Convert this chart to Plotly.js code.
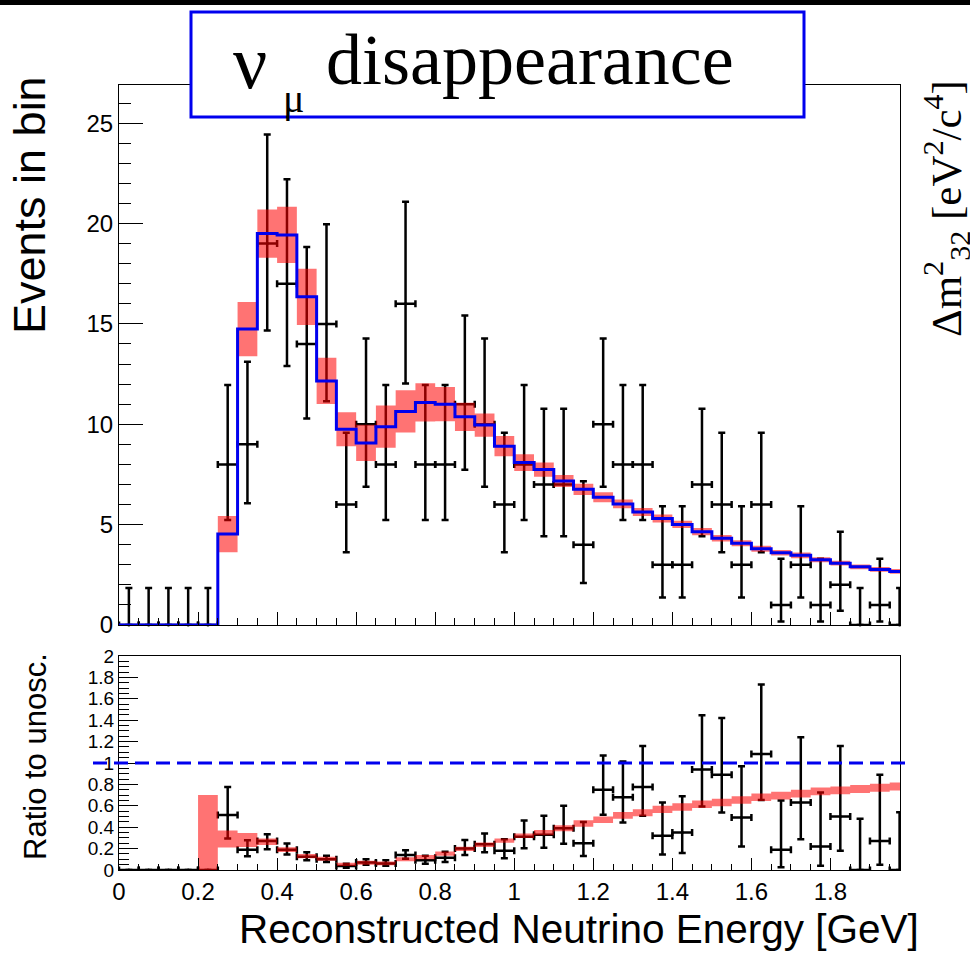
<!DOCTYPE html>
<html><head><meta charset="utf-8">
<script src="https://cdn.plot.ly/plotly-3.0.1.min.js"></script>
<style>html,body{margin:0;padding:0;background:#fff;} #plot{width:970px;height:954px;}</style>
</head><body><div id="plot"></div>
<script>
// Bin centres [GeV], 0.05 GeV bins
const energy = [0.025,0.075,0.125,0.175,0.225,0.275,0.325,0.375,0.425,0.475,
                0.525,0.575,0.625,0.675,0.725,0.775,0.825,0.875,0.925,0.975,
                1.025,1.075,1.125,1.175,1.225,1.275,1.325,1.375,1.425,1.475,
                1.525,1.575,1.625,1.675,1.725,1.775,1.825,1.875,1.925,1.975];
// Observed events
const events = [0,0,0,0,0,8,9,19,17,14,
                15,6,10,8,16,8,8,11,10,6,
                8,7,7,4,10,8,8,3,3,7,
                6,3,6,1,3,1,2,0,1,0];
const eventsErrUp = [1.84,1.84,1.84,1.84,1.84,3.95,4.11,5.43,5.20,4.83,
                     4.96,3.58,4.27,3.95,5.08,3.95,3.95,4.42,4.27,3.58,
                     3.95,3.77,3.77,3.16,4.27,3.95,3.95,2.92,2.92,3.77,
                     3.58,2.92,3.58,2.30,2.92,2.30,2.64,1.84,2.30,1.84];
const eventsErrLow = [0,0,0,0,0,2.77,2.94,4.33,4.10,3.71,
                      3.85,2.38,3.11,2.77,3.97,2.77,2.77,3.27,3.11,2.38,
                      2.77,2.58,2.58,1.91,3.11,2.77,2.77,1.63,1.63,2.58,
                      2.38,1.63,2.38,0.83,1.63,0.83,1.29,0,0.83,0];
// Best-fit oscillated prediction and its systematic half-width
const predicted = [0,0,0,0,0,4.53,14.74,19.5,19.43,16.35,
                   12.16,9.75,9.07,9.88,10.64,11.09,11.0,10.37,9.96,8.91,
                   8.09,7.74,7.17,6.76,6.36,6.03,5.63,5.31,5.01,4.65,
                   4.32,4.07,3.80,3.60,3.47,3.25,3.08,2.90,2.77,2.67];
const predictedErr = [0,0,0,0,0,0.9,1.35,1.2,1.4,1.4,
                      1.15,0.85,0.9,1.05,1.05,0.95,0.85,0.7,0.58,0.5,
                      0.42,0.36,0.3,0.28,0.25,0.22,0.2,0.2,0.18,0.18,
                      0.16,0.15,0.15,0.14,0.14,0.13,0.12,0.12,0.12,0.12];
// Ratio to unoscillated prediction
const ratio = [0,0,0,0,0,0.515,0.19,0.27,0.19,0.124,
               0.10,0.037,0.07,0.06,0.14,0.09,0.115,0.2,0.24,0.18,
               0.31,0.33,0.39,0.25,0.75,0.68,0.775,0.32,0.35,0.94,
               0.89,0.49,1.085,0.19,0.63,0.22,0.50,0,0.27,0];
const ratioErrUp = [0,0,0,0,0,0.26,0.087,0.065,0.058,0.042,
                    0.033,0.022,0.03,0.03,0.044,0.044,0.056,0.08,0.102,0.107,
                    0.153,0.178,0.21,0.198,0.32,0.335,0.383,0.31,0.34,0.506,
                    0.53,0.48,0.648,0.46,0.61,0.505,0.66,0.48,0.62,0.54];
const ratioErrLow = [0,0,0,0,0,0.22,0.062,0.075,0.046,0.033,
                     0.026,0.015,0.022,0.021,0.035,0.031,0.04,0.06,0.075,0.071,
                     0.107,0.122,0.144,0.12,0.234,0.235,0.269,0.174,0.19,0.346,
                     0.353,0.27,0.43,0.165,0.343,0.18,0.32,0,0.22,0];
const ratioBand = [0,0,0,0,0.35,0.29,0.28,0.264,0.19,0.13,
                   0.105,0.052,0.068,0.062,0.1,0.12,0.153,0.197,0.236,0.275,
                   0.32,0.35,0.39,0.435,0.47,0.51,0.535,0.567,0.589,0.614,
                   0.63,0.654,0.68,0.695,0.713,0.735,0.744,0.757,0.769,0.78];
const ratioBandErr = [0,0,0,0,0.35,0.08,0.065,0.03,0.022,0.02,
                      0.018,0.015,0.018,0.018,0.018,0.02,0.02,0.02,0.02,0.02,
                      0.022,0.025,0.028,0.03,0.03,0.032,0.033,0.034,0.035,0.035,
                      0.035,0.036,0.036,0.036,0.036,0.036,0.037,0.037,0.037,0.037];
const unoscRatio = 1;
const binHalfWidth = 0.025;
const xRange = [0, 1.976];

function stepX(c){ const xs = c.map(v => v - binHalfWidth); xs.push(c[c.length-1] + binHalfWidth); return xs; }
function stepY(v){ const ys = v.slice(); ys.push(v[v.length-1]); return ys; }

const SANS = 'Liberation Sans, Arial, sans-serif';
const SERIF = 'Liberation Serif, Times New Roman, serif';
const BAND = 'rgba(255,0,0,0.55)';
const BLUE = '#0000ee';

const xErrArr = energy.map(() => binHalfWidth);
const errStyle = {thickness: 2.5, width: 3.5, color: '#000'};

const traces = [
  {x: energy, y: events, type: 'scatter', mode: 'markers', xaxis: 'x', yaxis: 'y',
   marker: {size: 3, color: '#000'}, cliponaxis: false,
   error_y: Object.assign({type: 'data', symmetric: false, array: eventsErrUp, arrayminus: eventsErrLow}, errStyle),
   error_x: Object.assign({type: 'data', array: xErrArr}, errStyle)},
  {x: stepX(energy), y: stepY(predicted.map((v,i) => v - predictedErr[i])), type: 'scatter', mode: 'lines',
   line: {shape: 'hv', width: 0}, xaxis: 'x', yaxis: 'y', hoverinfo: 'skip'},
  {x: stepX(energy), y: stepY(predicted.map((v,i) => v + predictedErr[i])), type: 'scatter', mode: 'lines',
   line: {shape: 'hv', width: 0}, fill: 'tonexty', fillcolor: BAND, xaxis: 'x', yaxis: 'y', hoverinfo: 'skip'},
  {x: stepX(energy), y: stepY(predicted), type: 'scatter', mode: 'lines',
   line: {shape: 'hv', width: 3, color: BLUE}, xaxis: 'x', yaxis: 'y'},
  {x: energy, y: ratio, type: 'scatter', mode: 'markers', xaxis: 'x2', yaxis: 'y2',
   marker: {size: 3, color: '#000'},
   error_y: Object.assign({type: 'data', symmetric: false, array: ratioErrUp, arrayminus: ratioErrLow}, errStyle),
   error_x: Object.assign({type: 'data', array: xErrArr}, errStyle)},
  {x: stepX(energy), y: stepY(ratioBand.map((v,i) => v - ratioBandErr[i])), type: 'scatter', mode: 'lines',
   line: {shape: 'hv', width: 0}, xaxis: 'x2', yaxis: 'y2', hoverinfo: 'skip'},
  {x: stepX(energy), y: stepY(ratioBand.map((v,i) => v + ratioBandErr[i])), type: 'scatter', mode: 'lines',
   line: {shape: 'hv', width: 0}, fill: 'tonexty', fillcolor: BAND, xaxis: 'x2', yaxis: 'y2', hoverinfo: 'skip'}
];

const W = 970, H = 954;
const M = {l: 119, r: 70, t: 85, b: 84};
const PW = W - M.l - M.r, PH = H - M.t - M.b;
const topDomain = [(870 - 625) / PH, 1];
const botDomain = [0, (870 - 656) / PH];
const ratioRange = [0, 2.0];
const px = v => (v - M.l) / PW;
const py = v => (H - M.b - v) / PH;
const unityPaperY = botDomain[0] + (unoscRatio - ratioRange[0]) / (ratioRange[1] - ratioRange[0]) * (botDomain[1] - botDomain[0]);

const axisCommon = {showline: true, mirror: true, linecolor: '#000', linewidth: 1, showgrid: false, zeroline: false,
                    ticks: 'inside', tickcolor: '#000', tickwidth: 1, fixedrange: true};

const layout = {
  width: W, height: H, margin: M, paper_bgcolor: '#fff', plot_bgcolor: '#fff', showlegend: false,
  font: {family: SANS, color: '#000'},
  xaxis: Object.assign({}, axisCommon, {domain: [0,1], anchor: 'y', range: xRange, tick0: 0, dtick: 0.2, ticklen: 13,
          showticklabels: false, minor: {ticks: 'inside', ticklen: 7, dtick: 0.05, tickcolor: '#000', showgrid: false}}),
  yaxis: Object.assign({}, axisCommon, {domain: topDomain, anchor: 'x', range: [0, 26.9], tick0: 0, dtick: 5, ticklen: 24,
          tickfont: {family: SANS, size: 24, color: '#000'},
          minor: {ticks: 'inside', ticklen: 12, dtick: 1, tickcolor: '#000', showgrid: false}}),
  xaxis2: Object.assign({}, axisCommon, {domain: [0,1], anchor: 'y2', range: xRange, tick0: 0, dtick: 0.2, ticklen: 12,
          tickfont: {family: SANS, size: 24, color: '#000'},
          minor: {ticks: 'inside', ticklen: 6, dtick: 0.05, tickcolor: '#000', showgrid: false}}),
  yaxis2: Object.assign({}, axisCommon, {domain: botDomain, anchor: 'x2', range: ratioRange, tick0: 0, dtick: 0.2, ticklen: 19,
          tickfont: {family: SANS, size: 19, color: '#000'},
          minor: {ticks: 'inside', ticklen: 10, dtick: 0.05, tickcolor: '#000', showgrid: false}}),
  shapes: [
    {type: 'line', xref: 'paper', yref: 'paper', x0: px(93), x1: px(907), y0: unityPaperY, y1: unityPaperY,
     line: {color: BLUE, width: 3, dash: '14px,7px'}, layer: 'above'},
    {type: 'rect', xref: 'paper', yref: 'paper', x0: px(191), x1: px(804), y0: py(117), y1: py(12),
     fillcolor: '#fff', line: {color: BLUE, width: 3}, layer: 'above'},
    {type: 'rect', xref: 'paper', yref: 'paper', x0: px(0), x1: px(970), y0: py(5), y1: py(0),
     fillcolor: '#000', line: {width: 0}, layer: 'above'}
  ],
  annotations: [
    {text: 'ν', xref: 'paper', yref: 'paper', x: px(250), y: py(62), showarrow: false, xanchor: 'center', yanchor: 'middle',
     font: {family: SERIF, size: 76, color: '#000'}},
    {text: 'μ', xref: 'paper', yref: 'paper', x: px(293), y: py(98), showarrow: false, xanchor: 'center', yanchor: 'middle',
     font: {family: SERIF, size: 40, color: '#000'}},
    {text: 'disappearance', xref: 'paper', yref: 'paper', x: px(530), y: py(60), showarrow: false, xanchor: 'center', yanchor: 'middle',
     font: {family: SERIF, size: 72, color: '#000'}},
    {text: 'Events in bin', xref: 'paper', yref: 'paper', x: px(30), y: py(205), showarrow: false, textangle: -90,
     xanchor: 'center', yanchor: 'middle', font: {family: SANS, size: 45, color: '#000'}},
    {text: 'Ratio to unosc.', xref: 'paper', yref: 'paper', x: px(35), y: py(757), showarrow: false, textangle: -90,
     xanchor: 'center', yanchor: 'middle', font: {family: SANS, size: 31, color: '#000'}},
    {text: 'Reconstructed Neutrino Energy [GeV]', xref: 'paper', yref: 'paper', x: px(921), y: py(929), showarrow: false,
     xanchor: 'right', yanchor: 'middle', font: {family: SANS, size: 40.5, color: '#000'}},
    {text: 'Δm<sup>2</sup><sub>32</sub> [eV<sup>2</sup>/c<sup>4</sup>]', xref: 'paper', yref: 'paper', x: px(947), y: py(208),
     showarrow: false, textangle: -90, xanchor: 'center', yanchor: 'middle', font: {family: SERIF, size: 43, color: '#000'}}
  ]
};

Plotly.newPlot('plot', traces, layout, {staticPlot: true, displayModeBar: false});
</script>
</body></html>
